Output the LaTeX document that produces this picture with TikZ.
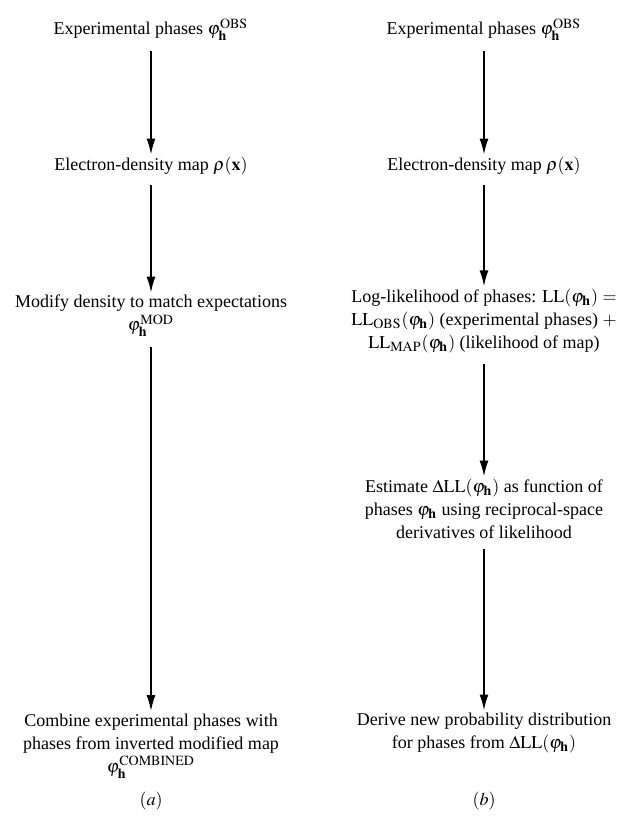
\documentclass[tikz,border=0pt]{standalone}
\usepackage{mathptmx}
\usepackage{fontspec}
\setmainfont{Liberation Serif}
\usetikzlibrary{arrows.meta}

\begin{document}
\begin{tikzpicture}[x=0.5pt,y=-0.5pt,
  every node/.style={align=center,font=\fontsize{9}{11.6}\selectfont,inner sep=1pt},
  flow/.style={-{Latex[length=8pt,width=4.5pt]},line width=0.9pt,shorten <=4pt,shorten >=0pt}]
\useasboundingbox (0,0) rectangle (630,820);

% (a) density modification
\node (a1) at (151,30) {Experimental phases $\varphi_{\mathbf{h}}^{\mathrm{OBS}}$};
\node (a2) at (151,166) {Electron-density map $\rho(\mathbf{x})$};
\node (a3) at (151,316) {Modify density to match expectations\\ $\varphi_{\mathbf{h}}^{\mathrm{MOD}}$};
\node (a4) at (151,746) {Combine experimental phases with\\ phases from inverted modified map\\ $\varphi_{\mathbf{h}}^{\mathrm{COMBINED}}$};

\draw [flow] (a1) -- (a2);
\draw [flow] (a2) -- (a3);
\draw [flow] (a3) -- (a4);

% (b) maximum-likelihood density modification
\node (b1) at (484,30) {Experimental phases $\varphi_{\mathbf{h}}^{\mathrm{OBS}}$};
\node (b2) at (484,166) {Electron-density map $\rho(\mathbf{x})$};
\node (b3) at (484,321) {Log-likelihood of phases: $\mathrm{LL}(\varphi_{\mathbf{h}})$ $=$\\ $\mathrm{LL}_{\mathrm{OBS}}(\varphi_{\mathbf{h}})$ (experimental phases) $+$\\ $\mathrm{LL}_{\mathrm{MAP}}(\varphi_{\mathbf{h}})$ (likelihood of map)};
\node (b4) at (484,509) {Estimate $\Delta\mathrm{LL}(\varphi_{\mathbf{h}})$ as function of\\ phases $\varphi_{\mathbf{h}}$ using reciprocal-space\\ derivatives of likelihood};
\node (b5) at (484,733) {Derive new probability distribution\\ for phases from $\Delta\mathrm{LL}(\varphi_{\mathbf{h}})$};

\draw [flow] (b1) -- (b2);
\draw [flow] (b2) -- (b3);
\draw [flow] (b3) -- (b4);
\draw [flow] (b4) -- (b5);

\node (lbla) at (151,801) {$(a)$};
\node (lblb) at (484,801) {$(b)$};
\end{tikzpicture}
\end{document}
